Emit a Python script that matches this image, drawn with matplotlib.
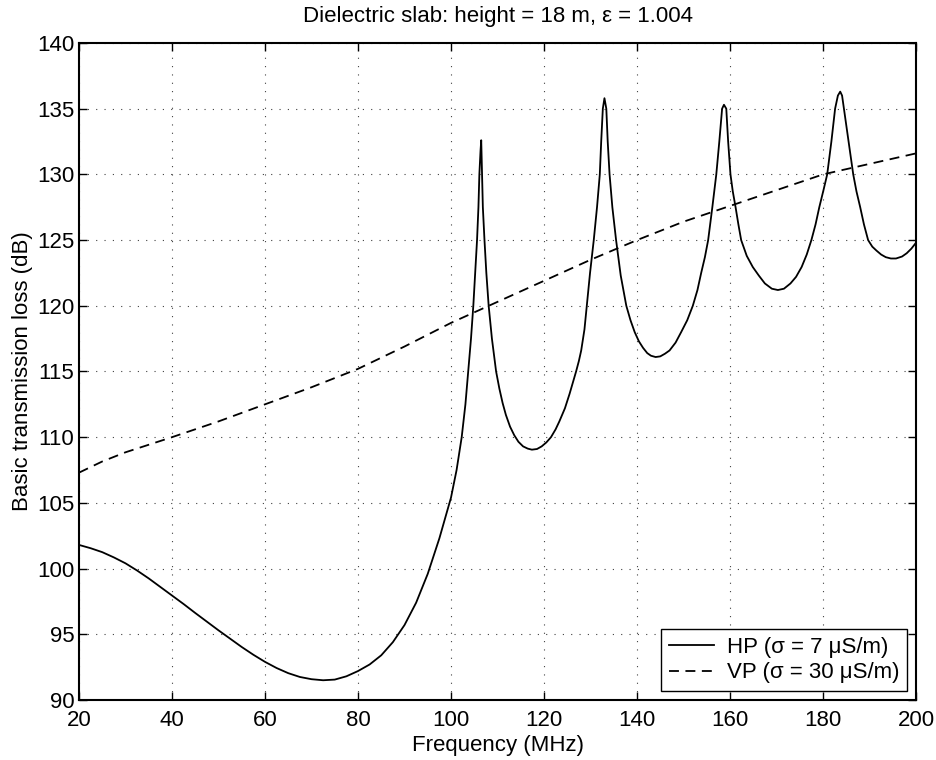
import matplotlib.pyplot as plt

plt.rcParams['font.family'] = ['Liberation Sans', 'DejaVu Sans']

# HP curve (sigma = 7 uS/m)
hp_freq = [20, 22.5, 25, 27.5, 30, 32.5, 35, 37.5, 40, 42.5, 45, 47.5, 50, 52.5, 55,
           57.5, 60, 62.5, 65, 67.5, 70, 72.5, 75, 77.5, 80, 82.5, 85, 87.5, 90,
           92.5, 95, 97.5, 100, 101.2, 102.3, 103.1, 103.7, 104.3, 104.8, 105.2,
           105.6, 105.9, 106.1, 106.35, 106.5, 106.6, 106.85, 107.2, 107.6, 108.1,
           108.8, 109.7, 110.4, 111.1, 111.8, 112.7, 113.6, 114.5, 115.5, 116.5,
           117.4, 118.5, 119.5, 120.5, 121.5, 122.5, 123.3, 124.5, 125.5, 126.9,
           127.5, 128.0, 128.7, 129.2, 129.9, 130.7, 131.4, 132.0, 132.3, 132.65,
           133.0, 133.4, 133.7, 134.1, 134.7, 135.5, 136.5, 137.7, 138.6, 139.5,
           140.4, 141.3, 142.2, 143.0, 144.0, 145.0, 146.0, 147.0, 148.3, 149.5,
           150.8, 152.0, 153.0, 153.8, 154.6, 155.3, 156.2, 157.05, 157.7, 158.3,
           158.7, 159.2, 159.6, 160.1, 160.6, 161.2, 161.8, 162.4, 163.6, 164.9,
           166.2, 167.5, 169.0, 170.3, 171.6, 173.0, 174.2, 175.4, 176.5, 177.5,
           178.4, 179.2, 180.1, 180.9, 181.8, 182.6, 183.2, 183.7, 184.1, 184.5,
           185.5, 186.5, 187.2, 188.0, 188.8, 189.7, 190.6, 191.5, 192.5, 193.5,
           194.6, 195.7, 197.0, 198.0, 199.0, 200]
hp_loss = [101.8, 101.55, 101.25, 100.85, 100.4, 99.85, 99.25, 98.6, 97.95, 97.3,
           96.62, 95.96, 95.3, 94.66, 94.03, 93.44, 92.9, 92.43, 92.04, 91.75, 91.58,
           91.5, 91.55, 91.8, 92.2, 92.7, 93.4, 94.4, 95.7, 97.4, 99.6, 102.3,
           105.4, 107.5, 110.0, 112.5, 115.0, 117.5, 120.0, 122.5, 125.0, 127.5,
           130.0, 131.8, 132.6, 131.2, 127.5, 125.0, 122.5, 120.0, 117.5, 115.0,
           113.7, 112.6, 111.7, 110.8, 110.15, 109.65, 109.3, 109.13, 109.05, 109.1,
           109.3, 109.6, 110.0, 110.6, 111.2, 112.2, 113.3, 115.0, 115.8, 116.6,
           118.2, 120.0, 122.5, 125.0, 127.5, 130.0, 132.5, 135.0, 135.8, 135.0,
           132.5, 130.0, 127.5, 125.0, 122.3, 120.0, 118.9, 118.0, 117.3, 116.8,
           116.4, 116.2, 116.1, 116.15, 116.35, 116.6, 117.2, 118.0, 118.9, 120.0,
           121.2, 122.5, 123.7, 125.0, 127.5, 130.0, 132.5, 135.0, 135.3, 135.0,
           132.5, 130.0, 128.7, 127.5, 126.2, 125.0, 123.8, 122.95, 122.3, 121.7,
           121.3, 121.2, 121.3, 121.7, 122.2, 122.95, 123.9, 125.0, 126.2, 127.5,
           128.8, 130.0, 132.5, 135.0, 136.0, 136.3, 136.0, 135.0, 132.5, 130.0,
           128.7, 127.5, 126.2, 125.0, 124.5, 124.2, 123.9, 123.7, 123.6, 123.6,
           123.75, 124.0, 124.35, 124.8]

# VP curve (sigma = 30 uS/m)
vp_freq = [20, 25, 30, 40, 50, 60, 70, 80, 90, 100, 110, 120, 130, 140, 150, 160,
           170, 180, 190, 200]
vp_loss = [107.3, 108.15, 108.85, 110.0, 111.2, 112.5, 113.8, 115.2, 116.9, 118.7,
           120.3, 121.9, 123.5, 125.0, 126.4, 127.6, 128.8, 130.0, 130.8, 131.6]

fig = plt.figure(figsize=(9.37, 7.6), dpi=100)
ax = fig.add_axes([0.0843, 0.079, 0.8933, 0.8644])

ax.plot(hp_freq, hp_loss, color='black', linewidth=1.3,
        label='HP (\u03c3 = 7 \u03bcS/m)')
ax.plot(vp_freq, vp_loss, color='black', linewidth=1.3, linestyle=(0, (5.5, 3.6)),
        label='VP (\u03c3 = 30 \u03bcS/m)')

ax.set_xlim(20, 200)
ax.set_ylim(90, 140)
ax.set_xticks(range(20, 201, 20))
ax.set_yticks(range(90, 141, 5))
ax.grid(True, linestyle=(0, (1, 6.5)), color='black', linewidth=0.8, alpha=0.75)
ax.tick_params(direction='in', top=True, right=True, length=6, width=1,
               labelsize=16)
ax.tick_params(axis='x', pad=7)
for s in ax.spines.values():
    s.set_linewidth(1.5)

ax.set_xlabel('Frequency (MHz)', fontsize=16, labelpad=3)
ax.set_ylabel('Basic transmission loss (dB)', fontsize=16, labelpad=3)
ax.set_title('Dielectric slab: height = 18 m, \u03b5 = 1.004', fontsize=16, pad=15)

leg = ax.legend(loc='lower right', fontsize=16, fancybox=False, framealpha=1,
                edgecolor='black', borderaxespad=0.4, handlelength=2.0,
                handletextpad=0.6, borderpad=0.35, labelspacing=0.2)
leg.get_frame().set_linewidth(1.0)

fig.savefig('out.png', dpi=100)
